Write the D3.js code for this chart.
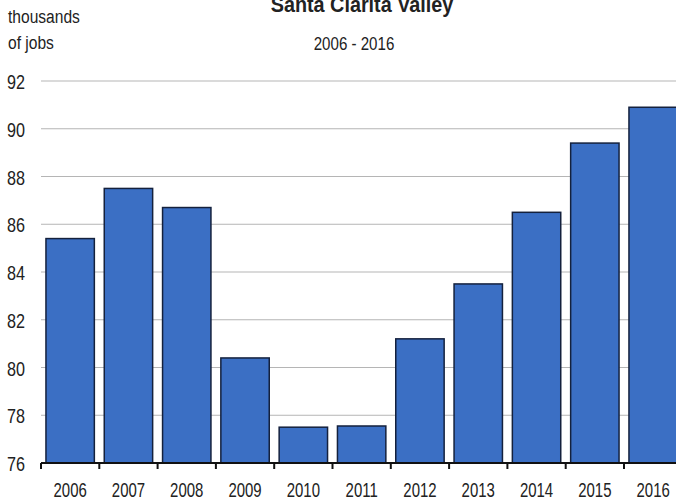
<!DOCTYPE html>
<html>
<head>
<meta charset="utf-8">
<script src="https://cdn.jsdelivr.net/npm/d3@7"></script>
<style>
  html, body { margin: 0; padding: 0; background: #fff; }
  svg { display: block; }
  text { font-family: "Liberation Sans", Arial, sans-serif; fill: #222; }
</style>
</head>
<body>
<div id="chart"></div>
<script>
// data
var years = ["2006", "2007", "2008", "2009", "2010", "2011", "2012", "2013", "2014", "2015", "2016"];
var jobs = [85.4, 87.5, 86.7, 80.4, 77.5, 77.55, 81.2, 83.5, 86.5, 89.4, 90.9];
var yTicks = [76, 78, 80, 82, 84, 86, 88, 90, 92];

var W = 676, H = 502;
var svg = d3.select("#chart").append("svg")
    .attr("width", W)
    .attr("height", H);

// plot area - right side runs off the edge like the scan
var plotLeft = 41, plotBottom = 463, plotTop = 81;
var x = d3.scaleBand().domain(years).range([plotLeft, plotLeft + 11 * 58.3]).paddingInner(0.17).paddingOuter(0.085);
var y = d3.scaleLinear().domain([76, 92]).range([plotBottom, plotTop]);

// the original uses a narrow font, squeeze a normal one
function narrow(sel, tx, ty, sx) {
    sel.attr("transform", "translate(" + tx + "," + ty + ") scale(" + sx + ",1)");
}

// gridlines
svg.append("g")
    .selectAll("line")
    .data(yTicks.slice(1))
    .enter().append("line")
    .attr("x1", plotLeft)
    .attr("x2", W)
    .attr("y1", d => y(d))
    .attr("y2", d => y(d))
    .attr("stroke", "#b5b5b5")
    .attr("stroke-width", 1);

// y labels (no axis line in the original)
svg.append("g")
    .selectAll("text")
    .data(yTicks)
    .enter().append("text")
    .attr("font-size", 21)
    .attr("transform", d => "translate(7," + (y(d) + 8) + ") scale(0.77,1)")
    .text(d => d);

// bars
svg.append("g")
    .selectAll("rect")
    .data(jobs)
    .enter().append("rect")
    .attr("x", (d, i) => x(years[i]))
    .attr("y", d => y(d))
    .attr("width", x.bandwidth())
    .attr("height", d => plotBottom - y(d))
    .attr("fill", "#3b6fc4")
    .attr("stroke", "#14213d")
    .attr("stroke-width", 1.5);

// x axis
var xAxis = svg.append("g")
    .attr("transform", "translate(0," + plotBottom + ")");
xAxis.append("line")
    .attr("x1", plotLeft).attr("x2", W)
    .attr("stroke", "#111").attr("stroke-width", 2);
xAxis.selectAll(".tk")
    .data(years)
    .enter().append("line")
    .attr("class", "tk")
    .attr("x1", d => x(d) - x.step() * x.paddingInner() / 2)
    .attr("x2", d => x(d) - x.step() * x.paddingInner() / 2)
    .attr("y1", 0).attr("y2", 6)
    .attr("stroke", "#111").attr("stroke-width", 2);
xAxis.selectAll("text")
    .data(years)
    .enter().append("text")
    .attr("text-anchor", "middle")
    .attr("font-size", 20.5)
    .attr("transform", d => "translate(" + (x(d) + x.bandwidth() / 2) + ",34) scale(0.73,1)")
    .text(d => d);

// titles
svg.append("text")
    .attr("text-anchor", "middle")
    .attr("font-size", 22)
    .attr("font-weight", "bold")
    .call(narrow, 362, 12, 0.9)
    .text("Santa Clarita Valley");
svg.append("text")
    .attr("text-anchor", "middle")
    .attr("font-size", 18)
    .call(narrow, 354, 50, 0.84)
    .text("2006 - 2016");
svg.append("text")
    .attr("font-size", 19)
    .call(narrow, 8, 23, 0.82)
    .text("thousands");
svg.append("text")
    .attr("font-size", 19)
    .call(narrow, 8, 49, 0.82)
    .text("of jobs");
</script>
</body>
</html>
